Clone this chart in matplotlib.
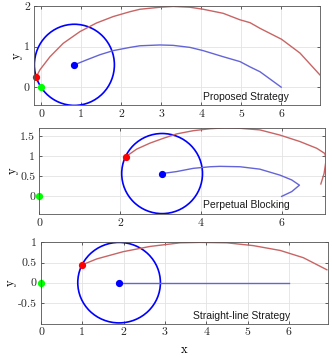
import numpy as np
import matplotlib
matplotlib.use("Agg")
import matplotlib.pyplot as plt
from matplotlib.patches import Circle

plt.rcParams["font.family"] = "serif"
plt.rcParams["font.serif"] = ["cmr10"]
plt.rcParams["mathtext.fontset"] = "cm"
plt.rcParams["axes.unicode_minus"] = False

# --- donnees ---
titres = ["Proposed Strategy", "Perpetual Blocking", "Straight-line Strategy"]

# panneau 1
rouge1_x = [-0.13, -0.03, 0.22, 0.55, 0.97, 1.38, 1.80, 2.22, 2.47, 2.97, 3.30, 3.72,
            4.05, 4.55, 4.97, 5.22, 5.47, 6.01, 6.47, 6.97]
rouge1_y = [0.24, 0.43, 0.75, 1.08, 1.37, 1.58, 1.74, 1.86, 1.92, 1.97, 1.99, 1.97,
            1.92, 1.82, 1.66, 1.59, 1.45, 1.18, 0.84, 0.30]
bleu1_x = [0.83, 1.13, 1.47, 1.80, 2.22, 2.47, 2.97, 3.30, 3.72, 4.05, 4.55, 4.97,
           5.22, 5.47, 6.0]
bleu1_y = [0.55, 0.67, 0.80, 0.90, 0.98, 1.02, 1.04, 1.03, 0.98, 0.90, 0.75, 0.63,
           0.50, 0.38, 0.0]
poursuivant1 = (-0.13, 0.24)
evadeur1 = (0.0, 0.0)
centre1 = (0.83, 0.55)

# panneau 2
rouge2_x = [2.14, 2.41, 2.74, 3.07, 3.40, 3.81, 4.23, 4.60, 4.97, 5.46, 5.96, 6.45,
            6.87, 7.07, 7.10, 7.05, 6.97]
rouge2_y = [0.99, 1.18, 1.33, 1.45, 1.56, 1.64, 1.69, 1.71, 1.70, 1.66, 1.53, 1.37,
            1.20, 1.07, 0.91, 0.57, 0.31]
bleu2_x = [3.04, 3.40, 3.81, 4.23, 4.47, 4.97, 5.46, 5.96, 6.25, 6.44, 6.25, 6.0]
bleu2_y = [0.57, 0.62, 0.70, 0.74, 0.75, 0.74, 0.68, 0.53, 0.41, 0.28, 0.12, 0.0]
poursuivant2 = (2.14, 0.99)
evadeur2 = (0.0, 0.0)
centre2 = (3.04, 0.57)

# panneau 3
rouge3_x = [0.99, 1.35, 1.99, 2.64, 3.37, 3.85, 4.50, 5.14, 5.79, 6.35, 6.92]
rouge3_y = [0.44, 0.59, 0.77, 0.90, 0.99, 1.0, 0.99, 0.92, 0.80, 0.62, 0.32]
bleu3_x = [1.89, 6.0]
bleu3_y = [0.0, 0.0]
poursuivant3 = (0.99, 0.44)
evadeur3 = (0.0, 0.0)
centre3 = (1.89, 0.0)

rayon = 1.0

xticks = [[0, 1, 2, 3, 4, 5, 6], [0, 2, 4, 6], [0, 1, 2, 3, 4, 5, 6]]
yticks = [[0, 1, 2], [0, 0.5, 1, 1.5], [-0.5, 0, 0.5, 1]]
ylabels = [["0", "1", "2"], ["0", "0.5", "1", "1.5"], ["-0.5", "0", "0.5", "1"]]
xlims = [(-0.18, 6.97), (0.0, 7.08), (0.0, 6.94)]
ylims = [(-0.44, 2.0), (-0.44, 1.715), (-1.02, 1.01)]

panneaux = [
    (rouge1_x, rouge1_y, bleu1_x, bleu1_y, poursuivant1, evadeur1, centre1),
    (rouge2_x, rouge2_y, bleu2_x, bleu2_y, poursuivant2, evadeur2, centre2),
    (rouge3_x, rouge3_y, bleu3_x, bleu3_y, poursuivant3, evadeur3, centre3),
]

positions = [
    [0.1024, 0.7067, 0.8614, 0.2765],
    [0.1184, 0.4022, 0.8614, 0.2411],
    [0.1235, 0.0958, 0.8636, 0.2282],
]
pos_texte = [(0.74, 0.08), (0.725, 0.11), (0.70, 0.10)]

fig = plt.figure(figsize=(3.32, 3.58), dpi=100)

for i, (rx, ry, bx, by, p, e, c) in enumerate(panneaux):
    ax = fig.add_axes(positions[i])
    ax.grid(True, color="#e3e3e3", linewidth=0.6)
    ax.set_axisbelow(True)

    ax.plot(rx, ry, color="#c86464", linewidth=1.0, solid_joinstyle="round")
    ax.plot(bx, by, color="#6464d8", linewidth=1.0, solid_joinstyle="round")
    ax.add_patch(Circle(c, rayon, fill=False, edgecolor="#0000ff", linewidth=1.2))
    ax.plot(*e, "o", color="#00ff00", markersize=4.2, clip_on=False)
    ax.plot(*p, "o", color="#ff0000", markersize=4.2, clip_on=False)
    ax.plot(*c, "o", color="#0000ff", markersize=4.2, clip_on=False)

    ax.set_xlim(*xlims[i])
    ax.set_ylim(*ylims[i])
    ax.set_xticks(xticks[i])
    ax.set_xticklabels([str(t) for t in xticks[i]])
    ax.set_yticks(yticks[i])
    ax.set_yticklabels(ylabels[i])
    ax.tick_params(direction="in", length=2.5, width=0.5, labelsize=8.5,
                   top=True, right=True, pad=3, colors="#262626")
    for s in ax.spines.values():
        s.set_color("#555555")
        s.set_linewidth(0.6)
    ax.set_ylabel("y", fontsize=9, labelpad=1)

    ax.text(pos_texte[i][0], pos_texte[i][1], titres[i], transform=ax.transAxes,
            ha="center", va="center", fontsize=7.5, family="Liberation Sans",
            color="#1a1a1a")

    if i == 2:
        ax.set_xlabel("x", fontsize=9, labelpad=5)

fig.savefig("out.png", dpi=100)
